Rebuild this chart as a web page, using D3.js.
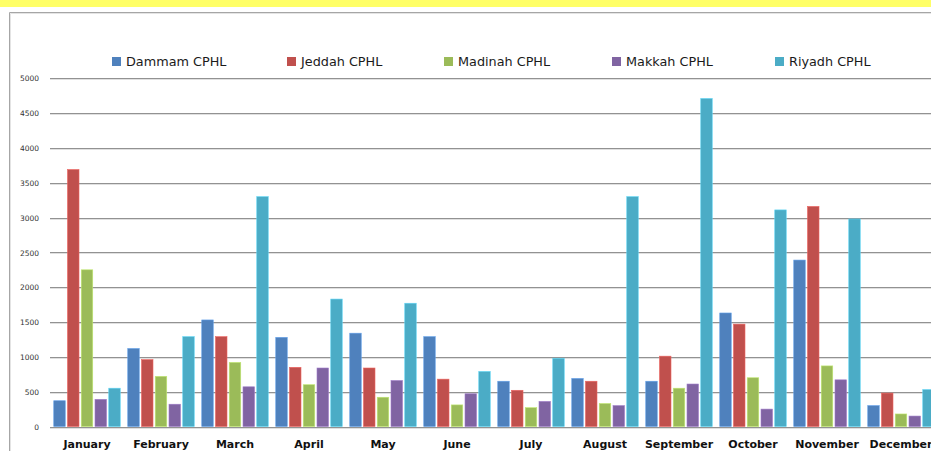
<!DOCTYPE html>
<html>
<head>
<meta charset="utf-8">
<script src="https://cdn.jsdelivr.net/npm/d3@7/dist/d3.min.js"></script>
<style>
  html, body { margin: 0; padding: 0; background: #fff; overflow: hidden; }
  svg { display: block; }
</style>
</head>
<body>
<svg id="chart" width="931" height="451"></svg>
<script>
// Monthly specimen counts per central public health laboratory
const months = ["January", "February", "March", "April", "May", "June",
  "July", "August", "September", "October", "November", "December"];
const labs = ["Dammam CPHL", "Jeddah CPHL", "Madinah CPHL", "Makkah CPHL", "Riyadh CPHL"];
const dammam  = [370, 1120, 1530, 1280, 1340, 1290, 650, 690, 650, 1630, 2390, 300];
const jeddah  = [3690, 960, 1290, 850, 840, 680, 520, 650, 1010, 1470, 3160, 480];
const madinah = [2250, 720, 920, 600, 420, 310, 270, 330, 550, 700, 870, 180];
const makkah  = [390, 320, 570, 840, 660, 470, 360, 300, 610, 250, 670, 150];
const riyadh  = [550, 1290, 3300, 1830, 1770, 790, 980, 3300, 4710, 3110, 2980, 530];
const yTicks  = [0, 500, 1000, 1500, 2000, 2500, 3000, 3500, 4000, 4500, 5000];
const colors  = ["#4F81BD", "#C0504D", "#9BBB59", "#8064A2", "#4BACC6"];

const seriesValues = [dammam, jeddah, madinah, makkah, riyadh];

const svg = d3.select("#chart");
const W = 931, H = 451;

// highlight band across the top of the page
svg.append("rect").attr("x", 0).attr("y", 0).attr("width", W).attr("height", 7)
  .attr("fill", "#FFFF66");

// chart frame (top and left edges visible in the window)
svg.append("path").attr("d", `M9.5,${H} V12.5 H${W}`)
  .attr("fill", "none").attr("stroke", "#a6a6a6").attr("stroke-width", 1);
svg.append("path").attr("d", `M10.5,${H} V13.5 H${W}`)
  .attr("fill", "none").attr("stroke", "#e4e4e4").attr("stroke-width", 1);

const plotLeft = 50, step = 74;
const x0 = d3.scaleBand().domain(months)
  .range([plotLeft, plotLeft + step * months.length]).padding(0);
const x1 = d3.scaleBand().domain(labs)
  .range([3.75, x0.bandwidth() - 3.75]).paddingInner(0.164).paddingOuter(0);
const y = d3.scaleLinear().domain([0, 5000]).range([426.5, 78.3]);

// gridlines
const grid = svg.append("g");
yTicks.forEach(t => {
  const yy = Math.round(y(t)) + 0.5;
  grid.append("line").attr("x1", plotLeft).attr("x2", W).attr("y1", yy).attr("y2", yy)
    .attr("stroke", "#929292").attr("stroke-width", 1);
  grid.append("line").attr("x1", plotLeft).attr("x2", W).attr("y1", yy + 1).attr("y2", yy + 1)
    .attr("stroke", "#e0e0e0").attr("stroke-width", 1);
});

// y axis labels
const yAxis = d3.axisLeft(y).tickValues(yTicks).tickSize(0).tickPadding(0)
  .tickFormat(d3.format("d"));
const yg = svg.append("g").attr("transform", `translate(39,0)`).call(yAxis);
yg.select(".domain").remove();
yg.selectAll("text").attr("font-family", "DejaVu Sans").attr("font-size", "7.5px")
  .attr("fill", "#333").attr("dy", "0.35em");

// bars
const groups = svg.append("g").selectAll("g").data(months).join("g")
  .attr("transform", d => `translate(${x0(d)},0)`);
groups.selectAll("rect")
  .data((m, i) => labs.map((lab, s) => ({ lab, s, v: seriesValues[s][i] })))
  .join("rect")
  .attr("x", d => x1(d.lab))
  .attr("width", x1.bandwidth())
  .attr("y", d => y(d.v))
  .attr("height", d => y(0) - y(d.v))
  .attr("fill", d => colors[d.s])
  .attr("stroke", d => d3.color(colors[d.s]).brighter(0.6))
  .attr("stroke-width", 0.6);

// category labels
const xAxis = d3.axisBottom(x0).tickSize(0).tickPadding(0);
const xg = svg.append("g").attr("transform", `translate(0,440)`).call(xAxis);
xg.select(".domain").remove();
xg.selectAll("text").attr("font-family", "DejaVu Sans").attr("font-weight", "bold")
  .attr("font-size", "11px").attr("fill", "#111").attr("dy", "0.71em");

// legend
const legendX = [112, 287, 444, 612, 775];
const legend = svg.append("g").selectAll("g").data(labs).join("g")
  .attr("transform", (d, i) => `translate(${legendX[i]},57)`);
legend.append("rect").attr("width", 9).attr("height", 9)
  .attr("fill", (d, i) => colors[i]);
legend.append("text").attr("x", 14).attr("y", 8.7).text(d => d)
  .attr("font-family", "DejaVu Sans").attr("font-size", "12.8px").attr("fill", "#1a1a1a");
</script>
</body>
</html>
